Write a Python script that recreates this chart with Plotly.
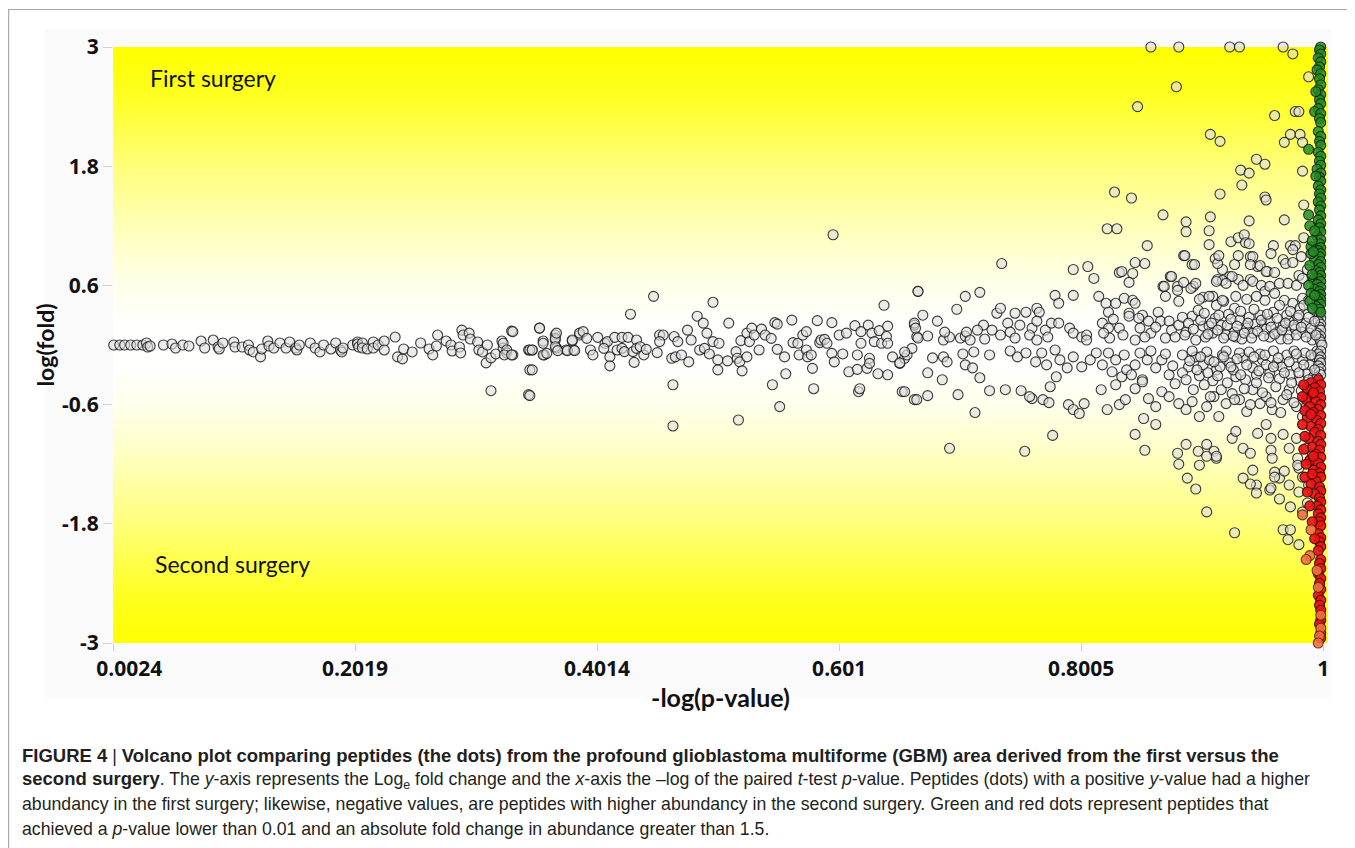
import plotly.graph_objects as go

# ---------------- data ----------------
X_TICKS = [0.0024, 0.2019, 0.4014, 0.601, 0.8005, 1]
X_TICK_TEXT = ["\u00a0" * 6 + "0.0024", "0.2019", "0.4014", "0.601", "0.8005", "1"]
Y_TICKS = [3, 1.8, 0.6, -0.6, -1.8, -3]
Y_TICK_TEXT = ["3", "1.8", "0.6", "-0.6", "-1.8", "-3"]

# non-significant peptides, left tail (-log p < 0.39)
GRAY_TAIL = [
    (0.003, 0.0), (0.008, 0.0), (0.012, 0.0), (0.017, 0.0), (0.022, 0.0), (0.027, 0.0), (0.030, 0.02), (0.031, -0.02),
    (0.033, -0.01), (0.044, 0.0), (0.051, 0.01), (0.054, -0.03), (0.060, 0.0), (0.065, -0.01), (0.075, 0.04), (0.078, -0.03),
    (0.085, 0.05), (0.089, -0.02), (0.090, -0.04), (0.093, 0.02), (0.102, 0.03), (0.103, -0.02), (0.109, -0.02), (0.114, 0.0),
    (0.115, -0.05), (0.118, -0.07), (0.124, -0.12), (0.125, -0.04), (0.130, 0.04), (0.131, -0.01), (0.135, -0.03), (0.140, 0.02),
    (0.145, -0.03), (0.148, 0.03), (0.153, -0.03), (0.154, -0.05), (0.156, 0.0), (0.165, 0.02), (0.169, -0.03), (0.173, -0.07),
    (0.176, 0.0), (0.182, -0.04), (0.186, 0.02), (0.190, -0.05), (0.191, -0.07), (0.192, -0.03), (0.200, 0.0), (0.204, 0.03),
    (0.204, 0.01), (0.205, -0.02), (0.208, 0.02), (0.208, -0.03), (0.212, -0.04), (0.217, 0.03), (0.217, -0.03), (0.221, 0.0),
    (0.226, 0.04), (0.226, -0.05), (0.235, 0.08), (0.237, -0.12), (0.241, -0.14), (0.242, -0.04), (0.249, -0.07), (0.256, 0.02),
    (0.263, -0.04), (0.266, -0.10), (0.269, -0.01), (0.270, 0.10), (0.277, 0.04), (0.281, 0.0), (0.282, -0.06), (0.288, -0.02),
    (0.289, -0.08), (0.290, 0.15), (0.291, 0.10), (0.296, 0.12), (0.297, 0.06), (0.303, 0.03), (0.304, -0.05), (0.307, -0.07),
    (0.310, -0.18), (0.311, 0.0), (0.314, -0.13), (0.314, -0.46), (0.318, -0.09), (0.323, 0.04), (0.324, -0.03), (0.327, -0.08),
    (0.331, 0.14), (0.332, -0.10), (0.345, -0.05), (0.346, -0.25), (0.345, -0.50), (0.348, -0.05), (0.354, 0.17), (0.357, 0.04),
    (0.358, -0.10), (0.367, 0.10), (0.367, 0.05), (0.368, -0.03), (0.376, -0.05), (0.381, 0.04), (0.382, -0.05), (0.387, 0.10),
]

# non-significant peptides, middle (0.32 - 0.67)
GRAY_MID = [
    (0.324, 0.017), (0.327, -0.05), (0.325, -0.10), (0.331, -0.10), (0.332, 0.135), (0.346, -0.05), (0.348, -0.05), (0.348, -0.25),
    (0.346, -0.51), (0.354, 0.17), (0.357, 0.017), (0.357, -0.10), (0.360, -0.084), (0.367, 0.067), (0.367, -0.017), (0.368, 0.12),
    (0.369, -0.057), (0.377, -0.057), (0.381, 0.05), (0.383, -0.057), (0.387, 0.12), (0.390, 0.135), (0.393, 0.067), (0.396, -0.05),
    (0.398, -0.10), (0.402, 0.077), (0.408, 0.017), (0.410, 0.034), (0.407, -0.034), (0.412, -0.12), (0.412, -0.21), (0.416, 0.077),
    (0.418, -0.05), (0.422, 0.077), (0.422, -0.034), (0.424, -0.067), (0.427, 0.077), (0.429, 0.31), (0.431, -0.067), (0.432, -0.175),
    (0.434, 0.05), (0.434, -0.034), (0.437, -0.017), (0.440, -0.10), (0.442, -0.044), (0.448, 0.49), (0.451, -0.077), (0.453, 0.10),
    (0.456, 0.10), (0.453, 0.034), (0.463, -0.134), (0.464, -0.40), (0.464, -0.815), (0.465, 0.085), (0.466, -0.12), (0.468, 0.034),
    (0.471, -0.10), (0.476, 0.15), (0.477, -0.17), (0.479, 0.05), (0.484, 0.29), (0.486, -0.05), (0.489, 0.22), (0.490, -0.034),
    (0.492, 0.12), (0.494, -0.09), (0.497, 0.43), (0.497, 0.034), (0.501, -0.15), (0.501, -0.25), (0.502, 0.017), (0.509, -0.16),
    (0.510, 0.22), (0.516, -0.067), (0.517, -0.134), (0.519, -0.17), (0.521, -0.26), (0.518, -0.755), (0.525, -0.12), (0.520, 0.044),
    (0.525, 0.12), (0.527, 0.034), (0.529, 0.17), (0.531, 0.10), (0.535, -0.05), (0.537, 0.16), (0.540, 0.10), (0.545, 0.067),
    (0.546, -0.40), (0.550, -0.044), (0.548, 0.225), (0.550, 0.21), (0.552, -0.62), (0.556, -0.12), (0.557, -0.29), (0.562, 0.25),
    (0.563, 0.024), (0.567, 0.017), (0.568, -0.10), (0.571, 0.10), (0.574, 0.135), (0.574, -0.05), (0.575, -0.12), (0.578, -0.10),
    (0.579, -0.235), (0.580, -0.44), (0.583, 0.245), (0.585, 0.024), (0.586, 0.05), (0.589, 0.057), (0.591, 0.017), (0.595, -0.084),
    (0.596, 1.11), (0.595, 0.225), (0.597, -0.17), (0.601, 0.10), (0.604, -0.09), (0.607, 0.12), (0.609, -0.27), (0.614, 0.195),
    (0.616, -0.10), (0.617, -0.47), (0.618, -0.44), (0.616, -0.245), (0.619, 0.135), (0.619, 0.017), (0.624, -0.235), (0.625, 0.20),
    (0.626, -0.134), (0.626, -0.185), (0.628, 0.12), (0.630, 0.034), (0.633, -0.29), (0.634, 0.145), (0.636, 0.017), (0.638, 0.40),
    (0.640, 0.085), (0.641, 0.19), (0.641, 0.017), (0.641, -0.30), (0.645, -0.12), (0.651, -0.185), (0.653, -0.47), (0.655, -0.134),
    (0.657, -0.10), (0.661, -0.034), (0.663, 0.20), (0.663, -0.55), (0.665, 0.085), (0.666, 0.54),
]

# non-significant peptides, 0.65 - 0.81
GRAY_RISE = [
    (0.735, 0.82), (0.666, 0.54), (0.705, 0.49), (0.717, 0.53), (0.698, 0.36), (0.670, 0.30), (0.663, 0.22), (0.664, 0.17),
    (0.682, 0.24), (0.655, -0.07), (0.651, -0.18), (0.666, 0.07), (0.674, 0.09), (0.687, 0.05), (0.692, 0.08), (0.688, 0.13),
    (0.701, 0.07), (0.705, 0.09), (0.706, 0.13), (0.709, 0.05), (0.678, -0.13), (0.674, -0.28), (0.687, -0.12), (0.690, -0.17),
    (0.703, -0.09), (0.705, -0.20), (0.711, -0.23), (0.717, -0.33), (0.686, -0.35), (0.699, -0.50), (0.713, -0.68), (0.692, -1.04),
    (0.754, -1.07), (0.777, -0.91), (0.655, -0.47), (0.665, -0.55), (0.674, -0.51), (0.725, -0.46), (0.738, -0.45), (0.751, -0.46),
    (0.760, -0.54), (0.769, -0.55), (0.774, -0.58), (0.731, 0.32), (0.734, 0.37), (0.746, 0.32), (0.755, 0.33), (0.764, 0.37),
    (0.740, 0.22), (0.750, 0.20), (0.760, 0.17), (0.771, 0.15), (0.720, 0.20), (0.715, 0.15), (0.727, 0.15), (0.734, 0.10),
    (0.742, 0.13), (0.721, 0.06), (0.746, 0.07), (0.758, 0.10), (0.764, 0.05), (0.779, 0.50), (0.782, 0.42), (0.794, 0.50),
    (0.794, 0.76), (0.806, 0.79), (0.766, 0.33), (0.764, 0.24), (0.776, 0.22), (0.773, 0.08), (0.782, 0.22), (0.791, 0.17),
    (0.794, 0.12), (0.801, 0.08), (0.805, 0.10), (0.805, 0.05), (0.748, -0.12), (0.763, -0.17), (0.772, -0.20), (0.783, -0.15),
    (0.789, -0.23), (0.794, -0.12), (0.801, -0.22), (0.808, -0.15), (0.758, -0.52), (0.775, -0.42), (0.780, -0.32), (0.790, -0.60),
    (0.794, -0.65), (0.799, -0.69), (0.803, -0.59), (0.742, -0.06), (0.755, -0.08), (0.768, -0.08), (0.779, -0.05), (0.725, -0.10),
    (0.712, -0.07),
]

# non-significant peptides, right dense region (> 0.81)
GRAY_RIGHT = [
    # far above zero
    (0.858, 3.0), (0.881, 3.0), (0.923, 3.0), (0.931, 3.0), (0.967, 3.0), (0.975, 2.93), (0.879, 2.6), (0.847, 2.4),
    (0.988, 2.7), (0.960, 2.31), (0.977, 2.35), (0.980, 2.35), (0.907, 2.12), (0.915, 2.05), (0.973, 2.12), (0.981, 2.12),
    (0.968, 2.04), (0.983, 2.04), (0.945, 1.87), (0.952, 1.82), (0.932, 1.76), (0.939, 1.73), (0.983, 1.75), (0.933, 1.61),
    (0.915, 1.52), (0.828, 1.54), (0.842, 1.48), (0.952, 1.49), (0.953, 1.46), (0.984, 1.41), (0.868, 1.31), (0.887, 1.24),
    (0.887, 1.14), (0.907, 1.29), (0.906, 1.15), (0.822, 1.17), (0.830, 1.17), (0.939, 1.25), (0.968, 1.26), (0.924, 1.04),
    (0.930, 1.08), (0.935, 1.11), (0.936, 1.03), (0.939, 1.02), (0.855, 1.0), (0.906, 1.01), (0.959, 1.0), (0.973, 1.0),
    (0.977, 1.0), (0.984, 1.08), (0.982, 0.89), (0.885, 0.90), (0.892, 0.81), (0.911, 0.87), (0.917, 0.76), (0.923, 0.69),
    (0.913, 0.66), (0.927, 0.81), (0.940, 0.89), (0.946, 0.79), (0.954, 0.74), (0.930, 0.66), (0.940, 0.66), (0.874, 0.69),
    (0.868, 0.59), (0.880, 0.59), (0.885, 0.63), (0.893, 0.59), (0.901, 0.48), (0.909, 0.49), (0.918, 0.44), (0.967, 0.86),
    (0.975, 0.96),
    # 0.6 - 1.0
    (0.811, 0.67), (0.832, 0.73), (0.834, 0.74), (0.843, 0.72), (0.845, 0.83), (0.853, 0.82), (0.840, 0.63), (0.875, 0.69),
    (0.886, 0.90), (0.894, 0.81), (0.913, 0.82), (0.914, 0.90), (0.930, 0.90), (0.942, 0.89), (0.957, 0.92), (0.940, 0.81),
    (0.948, 0.80), (0.953, 0.74), (0.960, 0.73), (0.969, 0.82), (0.975, 0.83), (0.980, 0.70), (0.917, 0.65), (0.912, 0.64),
    (0.925, 0.69), (0.920, 0.62), (0.934, 0.60), (0.942, 0.64), (0.949, 0.60), (0.952, 0.54), (0.956, 0.59), (0.964, 0.62),
    (0.971, 0.62), (0.978, 0.60), (0.983, 0.67), (0.987, 0.76),
    # 0.3 - 0.6
    (0.869, 0.59), (0.870, 0.49), (0.880, 0.55), (0.881, 0.44), (0.891, 0.57), (0.895, 0.62), (0.898, 0.46), (0.906, 0.49),
    (0.912, 0.40), (0.917, 0.45), (0.927, 0.37), (0.928, 0.49), (0.937, 0.46), (0.945, 0.49), (0.952, 0.45), (0.960, 0.52),
    (0.968, 0.45), (0.975, 0.42), (0.983, 0.47), (0.988, 0.45), (0.815, 0.49), (0.821, 0.42), (0.829, 0.42), (0.836, 0.47),
    (0.843, 0.45), (0.845, 0.42), (0.851, 0.30), (0.823, 0.33), (0.840, 0.32),
    # 0.04 - 0.33
    (0.818, 0.22), (0.823, 0.17), (0.832, 0.17), (0.824, 0.07), (0.840, 0.29), (0.848, 0.27), (0.849, 0.17), (0.856, 0.24),
    (0.864, 0.33), (0.866, 0.24), (0.873, 0.24), (0.875, 0.15), (0.870, 0.07), (0.881, 0.20), (0.887, 0.13), (0.892, 0.29),
    (0.901, 0.19), (0.906, 0.19), (0.909, 0.12), (0.916, 0.20), (0.920, 0.10), (0.927, 0.13), (0.931, 0.25), (0.937, 0.17),
    (0.942, 0.12), (0.948, 0.30), (0.950, 0.20), (0.956, 0.24), (0.962, 0.13), (0.967, 0.19), (0.972, 0.10), (0.979, 0.27),
    (0.983, 0.13), (0.991, 0.05), (0.928, 0.08), (0.956, 0.08), (0.972, 0.24), (0.895, 0.05), (0.845, 0.05), (0.835, 0.10),
    (0.858, 0.12), (0.878, 0.08), (0.884, 0.28), (0.897, 0.35), (0.903, 0.08), (0.911, 0.27), (0.922, 0.31), (0.933, 0.06),
    (0.939, 0.28), (0.944, 0.21), (0.953, 0.16), (0.959, 0.33), (0.965, 0.06), (0.970, 0.30), (0.977, 0.16), (0.981, 0.37),
    (0.986, 0.22), (0.989, 0.12), (0.862, 0.18), (0.853, 0.08), (0.827, 0.26), (0.819, 0.12),
    # -0.05 to -0.4
    (0.818, -0.20), (0.823, -0.08), (0.829, -0.15), (0.834, -0.32), (0.838, -0.25), (0.845, -0.20), (0.849, -0.08), (0.855, -0.15),
    (0.862, -0.23), (0.867, -0.15), (0.873, -0.30), (0.878, -0.39), (0.889, -0.22), (0.895, -0.12), (0.901, -0.20), (0.906, -0.15),
    (0.912, -0.25), (0.917, -0.10), (0.923, -0.18), (0.928, -0.32), (0.934, -0.13), (0.942, -0.23), (0.950, -0.15), (0.956, -0.28),
    (0.962, -0.18), (0.970, -0.10), (0.978, -0.22), (0.983, -0.15), (0.987, -0.28), (0.993, -0.12), (0.813, -0.08), (0.826, -0.27),
    (0.836, -0.10), (0.842, -0.30), (0.851, -0.35), (0.858, -0.06), (0.870, -0.09), (0.876, -0.21), (0.884, -0.28), (0.892, -0.06),
    (0.898, -0.31), (0.904, -0.07), (0.909, -0.36), (0.915, -0.22), (0.920, -0.06), (0.926, -0.25), (0.931, -0.08), (0.936, -0.35),
    (0.939, -0.07), (0.945, -0.30), (0.948, -0.09), (0.953, -0.20), (0.959, -0.06), (0.964, -0.34), (0.966, -0.22), (0.973, -0.30),
    (0.976, -0.06), (0.981, -0.36), (0.985, -0.08), (0.989, -0.20), (0.992, -0.32), (0.995, -0.06), (0.997, -0.15),
    # -0.4 to -0.75
    (0.829, -0.40), (0.832, -0.60), (0.837, -0.55), (0.845, -0.44), (0.851, -0.37), (0.852, -0.74), (0.856, -0.54), (0.862, -0.62),
    (0.867, -0.47), (0.873, -0.52), (0.881, -0.59), (0.887, -0.65), (0.892, -0.57), (0.898, -0.72), (0.904, -0.62), (0.910, -0.52),
    (0.914, -0.72), (0.920, -0.59), (0.925, -0.49), (0.931, -0.55), (0.937, -0.67), (0.942, -0.45), (0.948, -0.59), (0.953, -0.52),
    (0.958, -0.65), (0.967, -0.55), (0.972, -0.45), (0.978, -0.62), (0.983, -0.72), (0.988, -0.52), (0.822, -0.65), (0.817, -0.45),
    # below -0.75
    (0.845, -0.90), (0.853, -1.06), (0.862, -0.80), (0.880, -1.09), (0.881, -1.20), (0.887, -1.00), (0.888, -1.34), (0.895, -1.45),
    (0.897, -1.07), (0.898, -1.21), (0.904, -1.00), (0.910, -1.07), (0.912, -1.14), (0.925, -0.94), (0.928, -0.87), (0.934, -1.04),
    (0.940, -1.09), (0.942, -1.26), (0.946, -0.89), (0.953, -0.80), (0.957, -0.94), (0.957, -1.06), (0.958, -1.14), (0.960, -1.28),
    (0.964, -1.34), (0.967, -0.90), (0.972, -1.04), (0.978, -0.94), (0.979, -1.14), (0.980, -1.24), (0.986, -1.04), (0.991, -1.11),
    (0.945, -1.41), (0.956, -1.46), (0.964, -1.55), (0.934, -1.34), (0.940, -1.40), (0.972, -1.41), (0.980, -1.48), (0.988, -1.41),
    (0.993, -1.24), (0.945, -1.49), (0.973, -1.63), (0.983, -1.68), (0.987, -1.59), (0.904, -1.68), (0.927, -1.89), (0.967, -1.86),
    (0.973, -1.86), (0.971, -1.96), (0.980, -2.01), (0.968, -1.27), (0.979, -1.21), (0.983, -1.33), (0.991, -1.48), (0.957, -1.44),
    (0.960, -1.33), (0.904, -1.12), (0.912, -1.12),
    # column at -log p = 1 with small fold change
    (0.997, 0.30), (0.998, 0.27), (0.996, 0.24), (0.998, 0.21), (0.997, 0.18), (0.998, 0.15), (0.995, 0.12), (0.998, 0.09),
    (0.997, 0.06), (0.998, 0.03), (0.999, 0.0), (0.998, -0.06), (0.996, -0.09), (0.998, -0.12), (0.997, -0.15), (0.998, -0.18),
    (0.996, -0.21), (0.998, -0.24), (0.997, -0.27), (0.998, -0.30), (0.995, -0.33),
]

# non-significant peptides, the densest part of the cloud near -log p = 1
GRAY_DENSE = [
    (0.886, 0.10), (0.889, 0.22), (0.893, 0.16), (0.899, 0.25), (0.902, 0.32), (0.905, 0.11), (0.908, 0.22), (0.913, 0.15),
    (0.914, 0.30), (0.918, 0.07), (0.921, 0.20), (0.924, 0.26), (0.926, 0.09), (0.929, 0.19), (0.932, 0.34), (0.935, 0.12),
    (0.938, 0.22), (0.941, 0.07), (0.943, 0.36), (0.946, 0.14), (0.949, 0.25), (0.951, 0.09), (0.954, 0.31), (0.957, 0.18),
    (0.960, 0.11), (0.962, 0.27), (0.964, 0.40), (0.966, 0.15), (0.969, 0.22), (0.971, 0.06), (0.973, 0.34), (0.976, 0.20),
    (0.978, 0.10), (0.980, 0.30), (0.982, 0.18), (0.984, 0.40), (0.986, 0.08), (0.988, 0.28), (0.990, 0.17), (0.992, 0.36),
    (0.993, 0.24), (0.994, 0.10),
    (0.884, -0.10), (0.887, -0.35), (0.890, -0.16), (0.893, -0.45), (0.896, -0.25), (0.899, -0.12), (0.902, -0.40), (0.905, -0.28),
    (0.907, -0.52), (0.910, -0.17), (0.913, -0.31), (0.916, -0.45), (0.918, -0.12), (0.921, -0.38), (0.924, -0.22), (0.927, -0.55),
    (0.929, -0.14), (0.932, -0.30), (0.935, -0.44), (0.937, -0.20), (0.940, -0.60), (0.943, -0.12), (0.945, -0.38), (0.947, -0.26),
    (0.950, -0.48), (0.952, -0.10), (0.955, -0.33), (0.957, -0.58), (0.959, -0.22), (0.961, -0.42), (0.963, -0.13), (0.965, -0.68),
    (0.968, -0.28), (0.970, -0.50), (0.972, -0.17), (0.974, -0.38), (0.976, -0.58), (0.978, -0.09), (0.980, -0.28), (0.982, -0.46),
    (0.984, -0.20), (0.986, -0.62), (0.988, -0.35), (0.990, -0.10), (0.991, -0.50), (0.993, -0.25), (0.994, -0.42),
]

# significant, higher in first surgery (green)
UP_SIG = [
    (0.998, 3.0), (0.997, 2.97), (0.998, 2.93), (0.996, 2.89), (0.998, 2.85), (0.997, 2.80), (0.995, 2.77), (0.998, 2.73),
    (0.997, 2.68), (0.998, 2.62), (0.996, 2.57), (0.998, 2.52), (0.997, 2.47), (0.998, 2.43), (0.996, 2.38), (0.993, 2.35),
    (0.998, 2.33), (0.997, 2.28), (0.998, 2.24), (0.996, 2.15), (0.998, 2.10), (0.997, 2.05), (0.998, 2.01), (0.988, 1.97),
    (0.996, 1.94), (0.998, 1.90), (0.997, 1.85), (0.998, 1.81), (0.995, 1.77), (0.998, 1.73), (0.997, 1.69), (0.998, 1.65),
    (0.996, 1.60), (0.998, 1.56), (0.997, 1.52), (0.998, 1.48), (0.996, 1.44), (0.998, 1.40), (0.997, 1.36), (0.988, 1.31),
    (0.998, 1.30), (0.996, 1.26), (0.998, 1.22), (0.997, 1.18), (0.998, 1.14), (0.995, 1.10), (0.998, 1.06), (0.997, 1.02),
    (0.990, 0.99), (0.998, 0.98), (0.996, 0.95), (0.998, 0.92), (0.997, 0.89), (0.993, 0.86), (0.998, 0.84), (0.996, 0.81),
    (0.998, 0.78), (0.994, 0.75), (0.997, 0.73), (0.998, 0.70), (0.992, 0.66), (0.996, 0.67), (0.998, 0.64), (0.995, 0.61),
    (0.998, 0.58), (0.993, 0.56), (0.997, 0.54), (0.998, 0.51), (0.995, 0.49), (0.998, 0.46), (0.996, 0.44), (0.998, 0.41),
    (0.994, 0.39), (0.997, 0.36), (0.998, 0.33),
    (0.989, 1.20), (0.991, 1.05), (0.990, 0.92), (0.989, 0.80), (0.991, 0.71), (0.988, 0.60), (0.990, 0.52), (0.989, 0.44),
    (0.991, 0.37), (0.993, 1.15), (0.992, 0.94), (0.993, 0.50), (0.994, 1.70), (0.994, 2.55),
]

# significant, higher in second surgery (red)
DOWN_SIG = [
    (0.996, -0.35), (0.990, -0.38), (0.998, -0.40), (0.993, -0.43), (0.987, -0.45), (0.997, -0.47), (0.991, -0.50), (0.998, -0.53),
    (0.986, -0.55), (0.994, -0.57), (0.998, -0.60), (0.989, -0.62), (0.996, -0.65), (0.992, -0.68), (0.998, -0.71), (0.987, -0.73),
    (0.995, -0.76), (0.998, -0.79), (0.990, -0.82), (0.996, -0.85), (0.993, -0.88), (0.998, -0.91), (0.988, -0.94), (0.996, -0.97),
    (0.998, -1.00), (0.991, -1.03), (0.997, -1.06), (0.994, -1.10), (0.998, -1.13), (0.989, -1.16), (0.996, -1.19), (0.998, -1.23),
    (0.992, -1.26), (0.997, -1.29), (0.998, -1.33), (0.994, -1.37), (0.990, -1.40), (0.997, -1.43), (0.998, -1.47), (0.993, -1.50),
    (0.997, -1.54), (0.998, -1.58), (0.995, -1.62), (0.998, -1.66), (0.996, -1.70), (0.998, -1.74), (0.997, -1.78), (0.998, -1.82),
    (0.996, -1.90), (0.998, -1.94), (0.997, -1.98), (0.998, -2.03), (0.996, -2.07), (0.998, -2.16), (0.997, -2.20), (0.998, -2.25),
    (0.996, -2.30), (0.998, -2.35), (0.997, -2.40), (0.998, -2.46), (0.996, -2.52), (0.998, -2.57), (0.997, -2.62), (0.998, -2.67),
    (0.998, -2.77), (0.997, -2.81), (0.998, -2.90), (0.998, -2.95),
    (0.984, -0.40), (0.983, -0.52), (0.985, -0.66), (0.983, -0.80), (0.985, -0.92), (0.984, -1.05), (0.986, -1.20), (0.985, -1.33),
    (0.987, -1.48), (0.989, -1.62), (0.991, -1.78), (0.993, -1.95), (0.992, -0.48), (0.990, -0.70), (0.992, -1.12), (0.991, -1.30),
]
DOWN_SIG_LIGHT = [
    (0.983, -1.71), (0.990, -1.86), (0.989, -2.12), (0.986, -2.16), (0.995, -2.27), (0.996, -2.44), (0.998, -2.72), (0.998, -2.85),
    (0.997, -2.93), (0.996, -3.0),
]

# background shading: yellow share (0 = white, 1 = yellow) along the y axis
BG_Y = [-3.4, -3.0, -2.6, -2.2, -1.8, -1.4, -1.0, -0.6, -0.3, 0.0, 0.3, 0.6, 1.0, 1.4, 1.8, 2.2, 2.6, 3.0, 3.4]
BG_SHARE = [1.0, 1.0, 0.9, 0.72, 0.52, 0.36, 0.2, 0.08, 0.02, 0.0, 0.02, 0.08, 0.2, 0.36, 0.52, 0.72, 0.9, 1.0, 1.0]

BOLD = '<span style="font-size:18.5px"><b>{}</b></span>'
CAPTION = [
    BOLD.format("FIGURE 4") + " | " + BOLD.format("Volcano plot comparing peptides (the dots) from the profound glioblastoma multiforme (GBM) area derived from the first versus the"),
    BOLD.format("second surgery") + ". The <i>y</i>-axis represents the Log<sub>e</sub> fold change and the <i>x</i>-axis the \u2013log of the paired <i>t</i>-test <i>p</i>-value. Peptides (dots) with a positive <i>y</i>-value had a higher",
    "abundancy in the first surgery; likewise, negative values, are peptides with higher abundancy in the second surgery. Green and red dots represent peptides that",
    "achieved a <i>p</i>-value lower than 0.01 and an absolute fold change in abundance greater than 1.5.",
]

# ---------------- layout geometry (page offset of 8 px from the body margin) ----------------
OFF = 8
W, H = 1355 - OFF, 848 - OFF
L, T, PW, PH = 113 - OFF, 47 - OFF, 1215, 596
R, B = W - L - PW, H - T - PH


def paper_x(page_px):
    return (page_px - OFF - L) / PW


def paper_y(page_py):
    return (T + PH - (page_py - OFF)) / PH


fig = go.Figure()

fig.add_trace(go.Heatmap(
    x=[-0.5, 1.5], y=BG_Y, z=[[s, s] for s in BG_SHARE],
    colorscale=[[0, "#FFFFFF"], [1, "#FFFF00"]], zmin=0, zmax=1,
    zsmooth="best", showscale=False, hoverinfo="skip",
))


def add_points(pts, fill, line):
    fig.add_trace(go.Scatter(
        x=[p[0] for p in pts], y=[p[1] for p in pts], mode="markers",
        marker=dict(size=10, color=fill, line=dict(color=line, width=1.1)),
        cliponaxis=False, hoverinfo="skip", showlegend=False,
    ))


add_points(GRAY_TAIL + GRAY_MID + GRAY_RISE + GRAY_RIGHT + GRAY_DENSE,
           "rgba(222,222,222,0.6)", "rgba(25,25,25,0.85)")
add_points(UP_SIG, "rgba(34,139,34,0.85)", "rgba(20,40,20,0.9)")
add_points(DOWN_SIG, "rgba(236,18,18,0.92)", "rgba(60,10,10,0.9)")
add_points(DOWN_SIG_LIGHT, "rgba(242,112,62,0.9)", "rgba(90,40,20,0.9)")

tick_font = dict(family="Open Sans", size=21, color="#111111", weight=700)

fig.update_xaxes(
    range=[0.0024, 1.004], tickvals=X_TICKS, ticktext=X_TICK_TEXT,
    ticks="outside", ticklen=7, tickcolor="#CFCFCF", tickwidth=1,
    showgrid=False, zeroline=False, showline=False, tickfont=tick_font,
    title=dict(text="-log(p-value)", standoff=8,
               font=dict(family="Lato", size=25, color="#111111", weight=700)),
)
fig.update_yaxes(
    range=[-3, 3], tickvals=Y_TICKS, ticktext=Y_TICK_TEXT,
    ticks="outside", ticklen=9, tickcolor="#CFCFCF", tickwidth=1,
    showgrid=False, zeroline=False, showline=False, tickfont=tick_font,
    title=dict(text="log(fold)", standoff=0,
               font=dict(family="Lato", size=23, color="#111111", weight=700)),
)

annotations = [
    dict(x=0.031, y=2.69, xref="x", yref="y", text="First surgery", showarrow=False,
         xanchor="left", yanchor="middle", font=dict(family="Lato", size=23, color="#111111")),
    dict(x=0.035, y=-2.20, xref="x", yref="y", text="Second surgery", showarrow=False,
         xanchor="left", yanchor="middle", font=dict(family="Lato", size=23, color="#111111")),
]
for i, line in enumerate(CAPTION):
    annotations.append(dict(
        x=paper_x(20), y=paper_y(755 + 24.6 * i), xref="paper", yref="paper",
        text=line, showarrow=False, xanchor="left", yanchor="middle", align="left",
        font=dict(family="Liberation Sans", size=17.7, color="#231F20"),
    ))

shapes = [
    dict(type="rect", xref="paper", yref="paper", layer="below",
         x0=paper_x(45), x1=paper_x(1331), y0=paper_y(697), y1=paper_y(29),
         fillcolor="#FAFAFA", line=dict(width=0)),
    dict(type="rect", xref="paper", yref="paper", layer="above",
         x0=paper_x(OFF + 0.6), x1=paper_x(1349.5), y0=paper_y(870), y1=paper_y(9.5),
         fillcolor="rgba(0,0,0,0)", line=dict(color="#A8A8A8", width=1.2)),
]

fig.update_layout(
    width=W, height=H, margin=dict(l=L, r=R, t=T, b=B, autoexpand=False),
    paper_bgcolor="white", plot_bgcolor="white",
    showlegend=False, annotations=annotations, shapes=shapes,
)

fig.write_html("out.html")
